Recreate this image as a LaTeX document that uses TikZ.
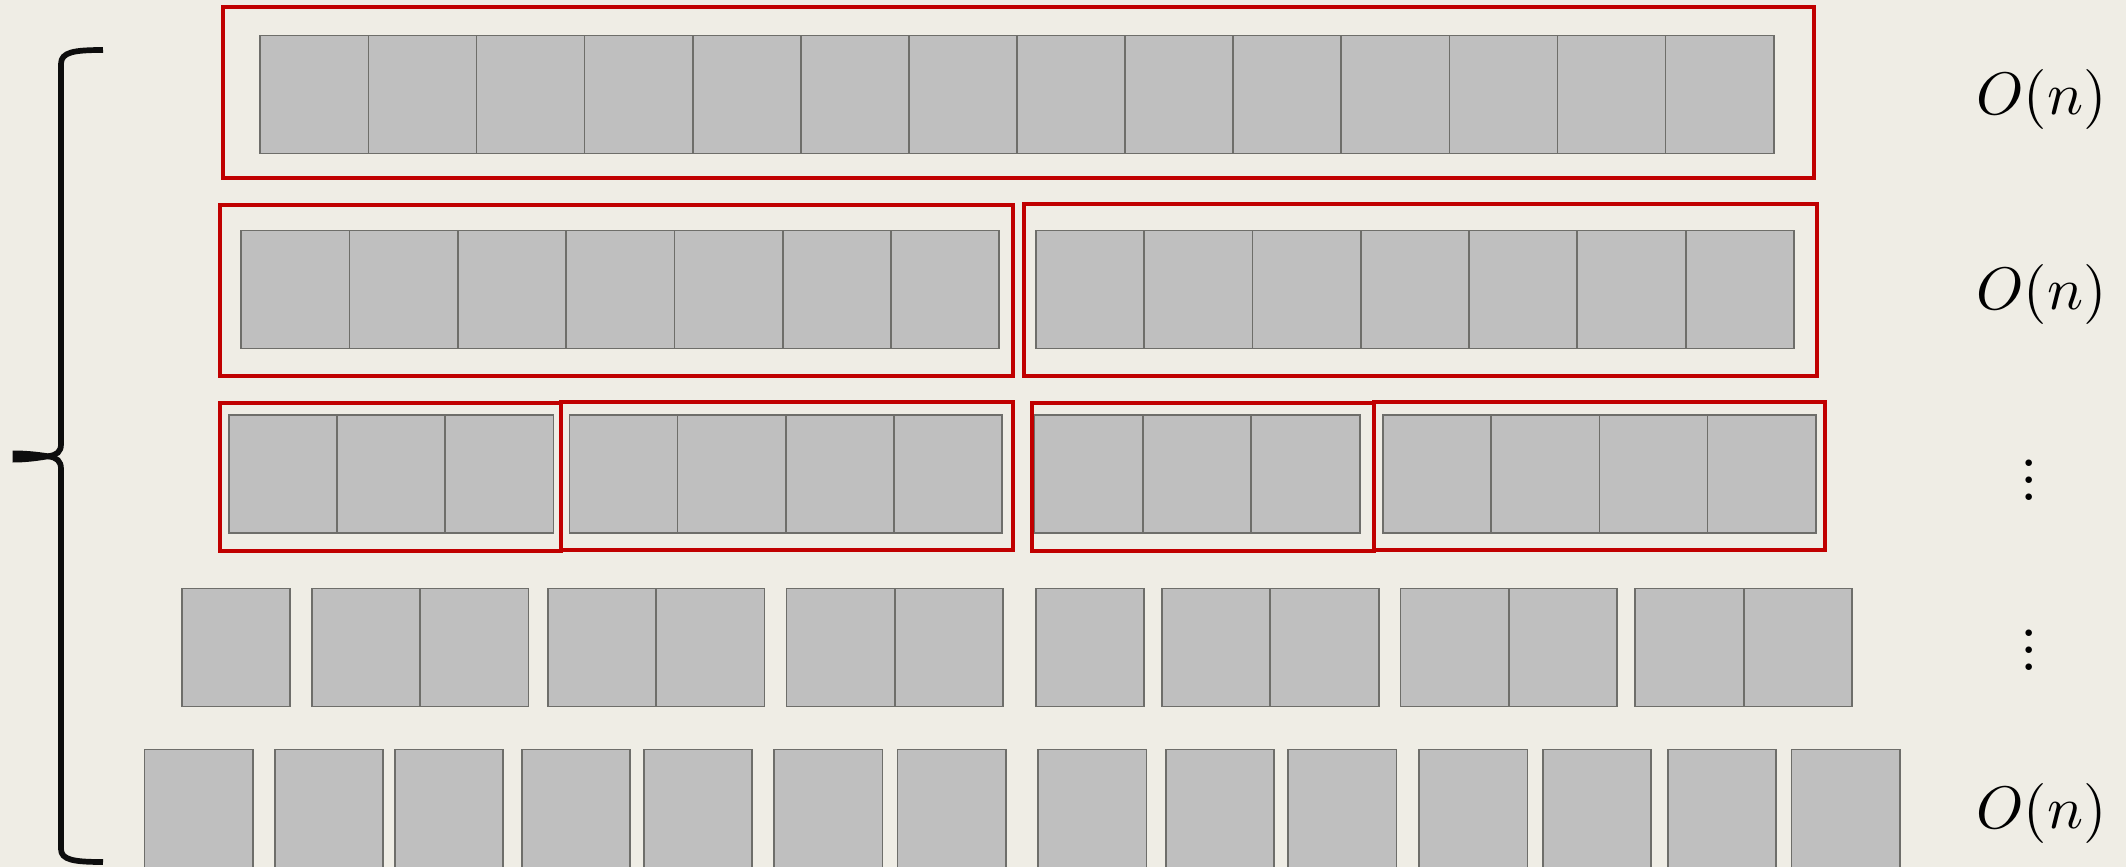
\documentclass[tikz,border=0pt]{standalone}
\definecolor{bg}{HTML}{EFEDE5}
\definecolor{cellfill}{HTML}{BFBFBF}
\definecolor{celldraw}{HTML}{6E6E6A}
\definecolor{redc}{HTML}{C00000}
\definecolor{bracec}{HTML}{0D0D0D}
\begin{document}
\begin{tikzpicture}[x=1pt,y=-1pt,
  cell/.style={draw=celldraw, fill=cellfill, line width=1.7pt, minimum width=108.2pt, minimum height=118pt, inner sep=0pt, outer sep=0pt, anchor=north west},
  lastcell/.style={cell, minimum height=130pt},
  redbox/.style={draw=redc, line width=4pt},
  bigo/.style={scale=6, inner sep=0pt},
  vdotsnode/.style={scale=4.2, inner sep=0pt, anchor=base, font=\bfseries},
  bracepath/.style={draw=bracec, line width=5.7pt}]
\fill[bg] (0,0) rectangle (2126,867);
\useasboundingbox (0,0) rectangle (2126,867);
% row 1
\foreach \i in {0,...,13} \node[cell] (a\i) at ({260.3+\i*108.1},35.5) {};
% row 2
\foreach \i in {0,...,6} {
  \node[cell] (bl\i) at ({241.3+\i*108.3},230.5) {};
  \node[cell] (br\i) at ({1035.9+\i*108.3},230.5) {};
}
% row 3
\foreach \i in {0,1,2} \node[cell] (ca\i) at ({229+\i*108.1},415) {};
\foreach \i in {0,...,3} \node[cell] (cb\i) at ({569.5+\i*108.1},415) {};
\foreach \i in {0,1,2} \node[cell] (cc\i) at ({1034.5+\i*108.5},415) {};
\foreach \i in {0,...,3} \node[cell] (cd\i) at ({1383+\i*108.2},415) {};
% row 4
\foreach \x [count=\k] in {181.7,311.9,420.3,547.8,656.3,786.4,894.9,1035.9,1162.0,1270.5,1400.6,1509.1,1635.2,1743.7}
  \node[cell] (d\k) at (\x,588.5) {};
% row 5
\foreach \x [count=\k] in {144.5,275,394.7,522.0,644.1,774.2,897.6,1038.3,1165.7,1288.2,1419.3,1542.7,1668,1791.6}
  \node[lastcell] (e\k) at (\x,749.5) {};
% red frames
\draw[redbox] (223,7) rectangle (1814,178);
\draw[redbox] (220,205) rectangle (1013,376);
\draw[redbox] (1024,203.5) rectangle (1817,376);
\draw[redbox] (219.5,403) rectangle (561,551);
\draw[redbox] (561,402) rectangle (1013,550);
\draw[redbox] (1032,403) rectangle (1373.5,551);
\draw[redbox] (1373.5,402) rectangle (1825,550);
% brace
\draw[bracepath] (103,50) .. controls (74,50) and (61,52) .. (61,64) -- (61,444) .. controls (61,452) and (57,455) .. (48,456.3);
\draw[bracepath] (48,456.3) .. controls (57,457.5) and (61,461) .. (61,469) -- (61,849) .. controls (61,860) and (74,862) .. (103,862);
\fill[bracec] (12.5,450.5) .. controls (30,450.5) and (42,452.5) .. (52,454) -- (52,458.6) .. controls (42,460) and (30,462.5) .. (12.5,462.5) -- cycle;
% labels
\node[bigo] (o1) at (2041.5,99) {$O(n)$};
\node[bigo] (o2) at (2041.5,294) {$O(n)$};
\node[vdotsnode] (v1) at (2029,500) {$\vdots$};
\node[vdotsnode] (v2) at (2029,670.5) {$\vdots$};
\node[bigo] (o3) at (2041.5,813) {$O(n)$};
\end{tikzpicture}
\end{document}
